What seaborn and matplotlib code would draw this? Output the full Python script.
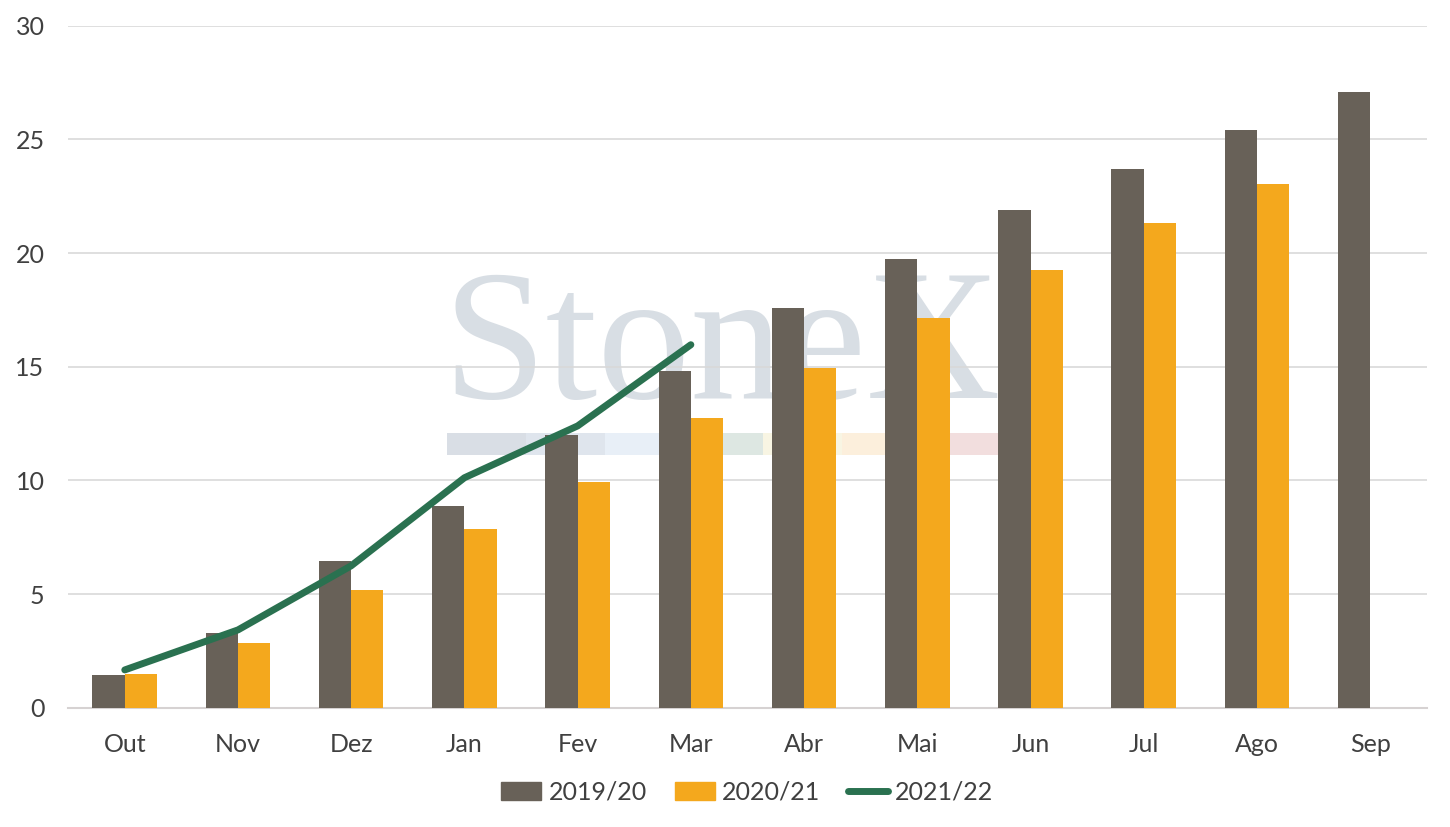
import numpy as np
import pandas as pd
import seaborn as sns
import matplotlib.pyplot as plt
from matplotlib.patches import Rectangle
from matplotlib.lines import Line2D

months = ['Out', 'Nov', 'Dez', 'Jan', 'Fev', 'Mar', 'Abr', 'Mai', 'Jun', 'Jul', 'Ago', 'Sep']
s1920 = [1.45, 3.3, 6.47, 8.89, 12.0, 14.83, 17.6, 19.75, 21.9, 23.7, 25.4, 27.06]
s2021 = [1.5, 2.86, 5.19, 7.87, 9.94, 12.76, 14.96, 17.16, 19.27, 21.34, 23.05, np.nan]
s2122 = [1.67, 3.43, 6.25, 10.12, 12.4, 15.97]

sns.set_theme(style='white')
plt.rcParams['font.family'] = ['Lato', 'DejaVu Sans']

df = pd.DataFrame({'mes': months * 2,
                   'valor': s1920 + s2021,
                   'safra': ['2019/20'] * 12 + ['2020/21'] * 12})

fig, ax = plt.subplots(figsize=(14.5, 8.27), dpi=100)
fig.subplots_adjust(left=0.047, right=0.984, top=0.969, bottom=0.144)

# watermark logo
ax.text(0.481, 0.4545, 'StoneX', transform=ax.transAxes, ha='center', va='baseline',
        fontsize=134, family='Liberation Serif', color='#d8dee4', zorder=0)
strip = ['#d9dee5', '#dfe5ed', '#e8eff7', '#dde7e2', '#f8f5e3', '#fcefdc', '#f2dede']
x0 = 0.279
w = 0.407 / len(strip)
for i, c in enumerate(strip):
    ax.add_patch(Rectangle((x0 + i * w, 0.371), w, 0.032, transform=ax.transAxes,
                           color=c, zorder=0, lw=0))

sns.barplot(data=df, x='mes', y='valor', hue='safra', ax=ax, width=0.57,
            palette=['#686158', '#f4a81d'], saturation=1, zorder=3, legend=False,
            linewidth=0, edgecolor='none')
sns.lineplot(x=np.arange(len(s2122)), y=s2122, ax=ax, color='#2a7150', lw=5,
             solid_capstyle='round', zorder=4)

ax.set_ylim(0, 30)
ax.set_xlim(-0.5, 11.5)
ax.set_yticks(range(0, 31, 5))
ax.yaxis.grid(True, color='#d9d9d9', lw=1.2, zorder=1)
ax.set_axisbelow(True)
for sp in ['top', 'right', 'left']:
    ax.spines[sp].set_visible(False)
ax.spines['bottom'].set_color('#d6d2d2')
ax.spines['bottom'].set_linewidth(1.5)
ax.spines['bottom'].set_zorder(2)
ax.set_xlabel('')
ax.set_ylabel('')
ax.tick_params(axis='both', length=0, labelsize=18, colors='#404040')
ax.tick_params(axis='x', pad=18)
ax.tick_params(axis='y', pad=17)

handles = [Rectangle((0, 0), 1, 1, color='#686158'),
           Rectangle((0, 0), 1, 1, color='#f4a81d'),
           Line2D([0], [0], color='#2a7150', lw=5)]
leg = ax.legend(handles, ['2019/20', '2020/21', '2021/22'], loc='upper center',
                bbox_to_anchor=(0.5, -0.074), ncol=3, frameon=False, fontsize=18,
                handlelength=1.6, handleheight=0.7, columnspacing=1.1, handletextpad=0.3)
for t in leg.get_texts():
    t.set_color('#404040')

fig.savefig('out.png', dpi=100)
